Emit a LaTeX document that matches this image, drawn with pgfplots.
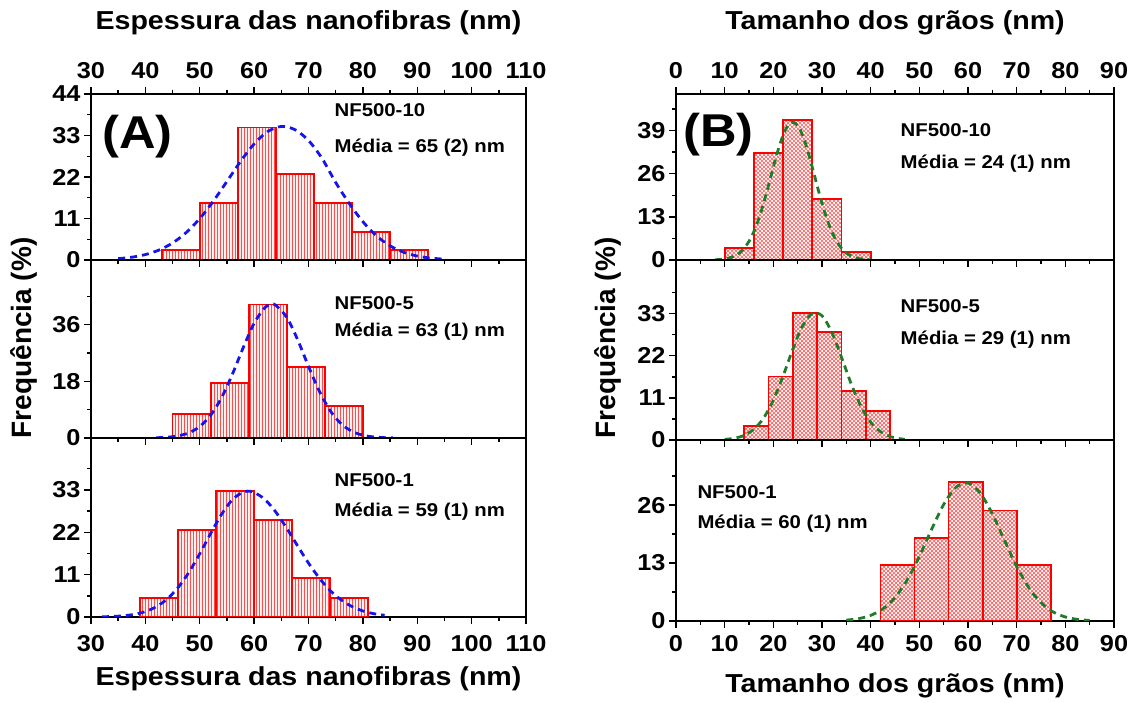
\documentclass[border=0pt]{standalone}
\usepackage{fontspec}
\setmainfont{Liberation Sans}[FakeStretch=1.1]
\newfontfamily\ylabfont{Liberation Sans}
\usepackage{pgfplots}
\pgfplotsset{compat=1.18}
\usetikzlibrary{patterns}

\pgfdeclarepatternformonly{dcross}{\pgfqpoint{-0.5pt}{-0.5pt}}{\pgfqpoint{4.5pt}{4.5pt}}{\pgfqpoint{4pt}{4pt}}{%
  \pgfsetlinewidth{0.7pt}%
  \pgfpathmoveto{\pgfqpoint{0pt}{0pt}}\pgfpathlineto{\pgfqpoint{4.05pt}{4.05pt}}%
  \pgfpathmoveto{\pgfqpoint{0pt}{4pt}}\pgfpathlineto{\pgfqpoint{4.05pt}{-0.05pt}}%
  \pgfusepath{stroke}}
\pgfdeclarepatternformonly{vlines}{\pgfqpoint{-0.5pt}{-0.5pt}}{\pgfqpoint{3.5pt}{3.5pt}}{\pgfqpoint{3pt}{3pt}}{%
  \pgfsetlinewidth{0.6pt}%
  \pgfpathmoveto{\pgfqpoint{1.5pt}{-0.1pt}}\pgfpathlineto{\pgfqpoint{1.5pt}{3.1pt}}%
  \pgfusepath{stroke}}

\definecolor{fitblue}{RGB}{20,20,235}
\definecolor{fitgreen}{RGB}{30,125,40}

\pgfplotsset{
  panel/.style={scale only axis, anchor=south west,
    axis line style={line width=1.5pt},
    tick align=outside, major tick length=7pt, minor tick length=4pt,
    tick style={line width=1.4pt, black},
    ytick pos=left, xtick pos=bottom,
    ticklabel style={font=\bfseries\fontsize{23}{23}\selectfont},
    /pgf/number format/assume math mode=true},
  leftcol/.style={panel, xmin=30, xmax=110, xtick={30,40,...,110}, minor xtick={35,45,...,105}, width=435pt},
  rightcol/.style={panel, xmin=0, xmax=90, xtick={0,10,...,90}, minor xtick={5,15,...,85}, width=438pt},
  histA/.style={ybar, bar width=7, bar shift=0pt, draw=red, line width=1.8pt,
    pattern=vlines, pattern color=red!70, preaction={fill=red!6}},
  histB/.style={ybar, bar width=#1, bar shift=0pt, draw=red, line width=1.8pt,
    pattern=dcross, pattern color=red!60, preaction={fill=white}},
  fitA/.style={fitblue, line width=2.8pt, dash pattern=on 7pt off 5pt, smooth},
  fitB/.style={fitgreen, line width=2.8pt, dash pattern=on 7pt off 5pt, smooth},
}
\newcommand{\nf}{\bfseries\fontsize{18.5}{18.5}\selectfont}
\newcommand{\panellab}{\bfseries\fontsize{46}{46}\selectfont}

\begin{document}
\begin{tikzpicture}
\useasboundingbox (0pt,0pt) rectangle (1139pt,703pt);

% ---------------- Column A ----------------
\begin{axis}[leftcol, at={(91pt,443pt)}, height=166pt, ymin=0, ymax=44,
  ytick={0,11,22,33,44}, minor ytick={5.5,16.5,27.5,38.5},
  xtick pos=both, xticklabel pos=right, xticklabel style={yshift=5pt}]
\addplot[histA] coordinates {(46.5,2.7) (53.5,15.2) (60.5,35.1) (67.5,22.7) (74.5,15.2) (81.5,7.4) (88.5,2.7)};
\addplot[fitA] coordinates {(35,0.36) (37.5,0.74) (40,1.44) (42.5,2.63) (45,4.51) (47.5,7.26) (50,10.98) (52.5,15.61) (55,20.83) (57.5,26.12) (60,30.77) (62.5,34.05) (65,35.40) (67.5,34.55) (70,31.68) (72.5,26.9) (75,20.55) (77.5,14.98) (80,10.15) (82.5,6.40) (85,3.76) (87.5,2.05) (90,1.04) (92.5,0.49) (95,0.22)};
\node[anchor=west, font=\nf] at (rel axis cs:0.552,0.904) {NF500-10};
\node[anchor=west, font=\nf] at (rel axis cs:0.552,0.675) {Média = 65 (2) nm};
\node[font=\panellab] at (rel axis cs:0.107,0.744) {(A)};
\end{axis}

\begin{axis}[leftcol, at={(91pt,265pt)}, height=178pt, ymin=0, ymax=56.5,
  ytick={0,18,36}, minor ytick={9,27,45}, xticklabels={}]
\addplot[histA] coordinates {(48.5,7.5) (55.5,17.5) (62.5,42.4) (69.5,22.5) (76.5,10.2)};
\addplot[fitA] coordinates {(42,0.08) (44,0.24) (46,0.66) (48,1.64) (50,3.63) (52,7.20) (54,12.76) (56,20.23) (58,28.70) (60,36.45) (62,41.42) (63.3,42.4) (64,42.11) (66,38.31) (68,31.20) (70,22.74) (72,14.82) (74,8.64) (76,4.51) (78,2.11) (80,0.88) (82,0.33) (84,0.11) (85.5,0.03)};
\node[anchor=west, font=\nf] at (rel axis cs:0.552,0.758) {NF500-5};
\node[anchor=west, font=\nf] at (rel axis cs:0.552,0.597) {Média = 63 (1) nm};
\end{axis}

\begin{axis}[leftcol, at={(91pt,86pt)}, height=179pt, ymin=0, ymax=46.5,
  ytick={0,11,22,33}, minor ytick={5.5,16.5,27.5,38.5}, xticklabel style={yshift=-8pt}]
\addplot[histA] coordinates {(42.5,4.9) (49.5,22.5) (56.5,32.7) (63.5,25.3) (70.5,10.1) (77.5,4.9)};
\addplot[fitA] coordinates {(32,0.05) (34,0.14) (36,0.32) (38,0.70) (40,1.41) (42,2.66) (44,4.67) (46,7.63) (48,11.60) (50,16.44) (52,21.68) (54,26.64) (56,30.50) (58,32.51) (58.8,32.7) (60,32.38) (62,30.51) (64,27.24) (66,23.04) (68,18.46) (70,14.01) (72,10.08) (74,6.86) (76,4.43) (78,2.71) (80,1.57) (82,0.86) (84,0.45)};
\node[anchor=west, font=\nf] at (rel axis cs:0.552,0.765) {NF500-1};
\node[anchor=west, font=\nf] at (rel axis cs:0.552,0.588) {Média = 59 (1) nm};
\end{axis}

% ---------------- Column B ----------------
\begin{axis}[rightcol, at={(676pt,443pt)}, height=166pt, ymin=0, ymax=50,
  ytick={0,13,26,39}, minor ytick={6.5,19.5,32.5,45.5},
  xtick pos=both, xticklabel pos=right, xticklabel style={yshift=5pt}]
\addplot[histB=6] coordinates {(13,3.5) (19,32.2) (25,42.2) (31,18.4) (37,2.3)};
\addplot[fitB] coordinates {(8,0.07) (9,0.16) (10,0.33) (11,0.64) (12,1.19) (13,2.09) (14,3.52) (15,5.62) (16,8.55) (17,12.37) (18,17.06) (19,22.39) (20,27.96) (21,33.23) (22,37.60) (23,40.49) (24,41.5) (25,40.49) (26,37.60) (27,33.23) (28,27.96) (29,22.39) (30,17.06) (31,12.37) (32,8.55) (33,5.62) (34,3.52) (35,2.09) (36,1.19) (37,0.64) (38,0.33) (39,0.16) (40,0.07)};
\node[anchor=west, font=\nf] at (rel axis cs:0.505,0.783) {NF500-10};
\node[anchor=west, font=\nf] at (rel axis cs:0.505,0.583) {Média = 24 (1) nm};
\node[font=\panellab] at (rel axis cs:0.097,0.753) {(B)};
\end{axis}

\begin{axis}[rightcol, at={(676pt,263pt)}, height=180pt, ymin=0, ymax=47,
  ytick={0,11,22,33}, minor ytick={5.5,16.5,27.5,38.5}, xticklabels={}]
\addplot[histB=5] coordinates {(16.5,3.7) (21.5,16.6) (26.5,33.1) (31.5,28.1) (36.5,12.7) (41.5,7.5)};
\addplot[fitB] coordinates {(10,0.15) (12,0.46) (14,1.20) (16,2.79) (18,5.72) (20,10.39) (22,16.69) (24,23.70) (26,29.77) (28,33.05) (30,32.45) (32,28.17) (34,21.62) (36,14.67) (38,8.80) (40,4.67) (42,2.19) (44,0.91) (46,0.33) (47,0.19)};
\node[anchor=west, font=\nf] at (rel axis cs:0.505,0.741) {NF500-5};
\node[anchor=west, font=\nf] at (rel axis cs:0.505,0.556) {Média = 29 (1) nm};
\end{axis}

\begin{axis}[rightcol, at={(676pt,82pt)}, height=181pt, ymin=0, ymax=40.6,
  ytick={0,13,26}, minor ytick={6.5,19.5,32.5}, xticklabel style={yshift=-4pt}]
\addplot[histB=7] coordinates {(45.5,12.5) (52.5,18.7) (59.5,31.1) (66.5,24.8) (73.5,12.5)};
\addplot[fitB] coordinates {(35,0.20) (37.5,0.52) (40,1.26) (42.5,2.71) (45,5.26) (47.5,9.21) (50,14.48) (52.5,20.51) (55,26.13) (57.5,29.97) (60,30.93) (62.5,28.73) (65,24.02) (67.5,18.07) (70,12.24) (72.5,7.45) (75,4.09) (77.5,2.02) (80,0.90) (82.5,0.36) (85,0.13)};
\node[anchor=west, font=\nf] at (rel axis cs:0.041,0.714) {NF500-1};
\node[anchor=west, font=\nf] at (rel axis cs:0.041,0.540) {Média = 60 (1) nm};
\end{axis}

% ---------------- Titles ----------------
\node[anchor=base, font=\bfseries\fontsize{26}{26}\selectfont] at (308.5pt,673pt) {Espessura das nanofibras (nm)};
\node[anchor=base, font=\bfseries\fontsize{26}{26}\selectfont] at (308.5pt,17pt) {Espessura das nanofibras (nm)};
\node[anchor=base, font=\bfseries\fontsize{26}{26}\selectfont] at (895pt,673pt) {Tamanho dos grãos (nm)};
\node[anchor=base, font=\bfseries\fontsize{26}{26}\selectfont] at (895pt,10.3pt) {Tamanho dos grãos (nm)};
\node[rotate=90, font=\ylabfont\bfseries\fontsize{28}{28}\selectfont] at (24pt,365pt) {Frequência (\%)};
\node[rotate=90, font=\ylabfont\bfseries\fontsize{28}{28}\selectfont] at (608pt,365pt) {Frequência (\%)};
\end{tikzpicture}
\end{document}
